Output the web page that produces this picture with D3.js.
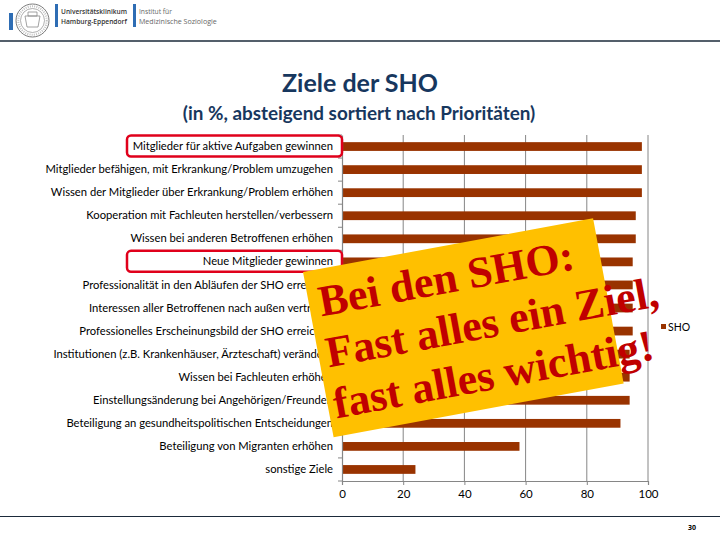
<!DOCTYPE html>
<html>
<head>
<meta charset="utf-8">
<script src="https://cdn.jsdelivr.net/npm/d3@7/dist/d3.min.js"></script>
<style>
  html, body { margin: 0; padding: 0; background: #fff; }
  svg { display: block; }
</style>
</head>
<body>
<svg id="chart" width="720" height="540"></svg>
<script>
// ---------- data ----------
const categories = [
  "Mitglieder für aktive Aufgaben gewinnen",
  "Mitglieder befähigen, mit Erkrankung/Problem umzugehen",
  "Wissen der Mitglieder über Erkrankung/Problem erhöhen",
  "Kooperation mit Fachleuten herstellen/verbessern",
  "Wissen bei anderen Betroffenen erhöhen",
  "Neue Mitglieder gewinnen",
  "Professionalität in den Abläufen der SHO erreichen",
  "Interessen aller Betroffenen nach außen vertreten",
  "Professionelles Erscheinungsbild der SHO erreichen",
  "Institutionen (z.B. Krankenhäuser, Ärzteschaft) verändern",
  "Wissen bei Fachleuten erhöhen",
  "Einstellungsänderung bei Angehörigen/Freunden",
  "Beteiligung an gesundheitspolitischen Entscheidungen",
  "Beteiligung von Migranten erhöhen",
  "sonstige Ziele"
];
const values = [98, 98, 98, 96, 96, 95, 95, 95, 95, 94, 94, 94, 91, 58, 24];
const seriesName = "SHO";
const xTicks = [0, 20, 40, 60, 80, 100];
const highlighted = ["Mitglieder für aktive Aufgaben gewinnen", "Neue Mitglieder gewinnen"];
const titleText = "Ziele der SHO";
const subtitleText = "(in %, absteigend sortiert nach Prioritäten)";
const noteLines = ["Bei den SHO:", "Fast alles ein Ziel,", "fast alles wichtig!"];

// ---------- helpers ----------
function fitFont(sel, baseSize, targetWidth) {
  sel.attr("font-size", baseSize);
  const w = sel.node().getComputedTextLength();
  sel.attr("font-size", baseSize * targetWidth / w);
  return sel;
}

// ---------- layout ----------
const svg = d3.select("#chart");
const plot = { left: 342, right: 648, top: 135, bottom: 481 };
const labelFont = "Lato, 'Open Sans', sans-serif";
const gray = "#868686";

const x = d3.scaleLinear().domain([0, 100]).range([plot.left, plot.right]);
const y = d3.scaleBand().domain(categories).range([plot.top, plot.bottom]).paddingInner(0.62).paddingOuter(0.31);

// ---------- header ----------
const hdr = svg.append("g");
hdr.append("rect").attr("x", 9).attr("y", 13).attr("width", 4).attr("height", 17).attr("fill", "#2e6db4");
hdr.append("circle").attr("cx", 32.5).attr("cy", 20.5).attr("r", 16.5).attr("fill", "none").attr("stroke", "#7a7a7a").attr("stroke-width", 1);
hdr.append("circle").attr("cx", 32.5).attr("cy", 20.5).attr("r", 12).attr("fill", "none").attr("stroke", "#9a9a9a").attr("stroke-width", 0.8);
hdr.append("circle").attr("cx", 32.5).attr("cy", 20.5).attr("r", 14.2).attr("fill", "none").attr("stroke", "#c0c0c0").attr("stroke-width", 2).attr("stroke-dasharray", "1 1.2");
hdr.append("path").attr("d", "M25,16 L40,16 L38,27 L27,27 Z M28,12 L37,12 L37,16 L28,16 Z").attr("fill", "none").attr("stroke", "#8a8a8a").attr("stroke-width", 0.8);
hdr.append("rect").attr("x", 55).attr("y", 4).attr("width", 3).attr("height", 23).attr("fill", "#2e6db4");
fitFont(hdr.append("text").attr("x", 61).attr("y", 14).attr("font-family", "'Open Sans', sans-serif").attr("font-weight", 600).attr("fill", "#333").text("Universitätsklinikum"), 8, 66);
fitFont(hdr.append("text").attr("x", 61).attr("y", 24).attr("font-family", "'Open Sans', sans-serif").attr("font-weight", 600).attr("fill", "#333").text("Hamburg-Eppendorf"), 8, 66);
hdr.append("rect").attr("x", 133).attr("y", 4).attr("width", 3).attr("height", 23).attr("fill", "#2e6db4");
fitFont(hdr.append("text").attr("x", 139).attr("y", 14).attr("font-family", "'Open Sans', sans-serif").attr("fill", "#666").text("Institut für"), 7.5, 33);
fitFont(hdr.append("text").attr("x", 139).attr("y", 24).attr("font-family", "'Open Sans', sans-serif").attr("fill", "#666").text("Medizinische Soziologie"), 7.5, 78);
svg.append("line").attr("x1", 0).attr("x2", 720).attr("y1", 41).attr("y2", 41).attr("stroke", "#1b2a3a").attr("stroke-width", 1.5);

// footer
svg.append("line").attr("x1", 0).attr("x2", 720).attr("y1", 516.5).attr("y2", 516.5).attr("stroke", "#1b2a3a").attr("stroke-width", 1.2);
svg.append("text").attr("x", 692).attr("y", 530).attr("text-anchor", "middle").attr("font-family", "'Open Sans', sans-serif").attr("font-size", 7).attr("font-weight", 700).attr("fill", "#000").text("30");

// ---------- titles ----------
fitFont(svg.append("text").attr("x", 360).attr("y", 92).attr("text-anchor", "middle")
  .attr("font-family", labelFont).attr("font-weight", 700).attr("fill", "#17375e").text(titleText), 22, 156);
fitFont(svg.append("text").attr("x", 359).attr("y", 120).attr("text-anchor", "middle")
  .attr("font-family", labelFont).attr("font-weight", 700).attr("fill", "#17375e").text(subtitleText), 16, 353);

// ---------- grid ----------
const grid = svg.append("g");
grid.selectAll("line").data(xTicks.filter(d => d > 0)).join("line")
  .attr("x1", d => x(d)).attr("x2", d => x(d))
  .attr("y1", plot.top).attr("y2", plot.bottom)
  .attr("stroke", gray).attr("stroke-width", 1);

// ---------- bars ----------
svg.append("g").selectAll("rect").data(categories).join("rect")
  .attr("x", x(0))
  .attr("y", d => y(d))
  .attr("width", (d, i) => x(values[i]) - x(0))
  .attr("height", y.bandwidth())
  .attr("fill", "#993300");

// ---------- axes ----------
const xAxis = d3.axisBottom(x).tickValues(xTicks).tickSize(4).tickPadding(5);
const gx = svg.append("g").attr("transform", `translate(0,${plot.bottom})`).call(xAxis);
gx.select(".domain").attr("stroke", gray).attr("stroke-width", 1.2);
gx.selectAll(".tick line").attr("stroke", gray);
gx.selectAll(".tick text").attr("font-family", labelFont).attr("font-size", 11.5).attr("fill", "#000");

const yAxis = d3.axisLeft(y).tickSize(0).tickPadding(9);
const gy = svg.append("g").attr("transform", `translate(${plot.left},0)`).call(yAxis);
gy.select(".domain").attr("stroke", gray).attr("stroke-width", 1.2);
const yLabels = gy.selectAll(".tick text").attr("font-family", labelFont).attr("font-size", 11).attr("fill", "#000");
// scale label font so the longest label spans like the reference
const longest = d3.max(yLabels.nodes(), n => n.getComputedTextLength());
yLabels.attr("font-size", 11 * 288 / longest);

// boundary tick marks between categories
const step = y.step();
const bounds = d3.range(categories.length + 1).map(i => plot.top + i * step);
svg.append("g").selectAll("line").data(bounds).join("line")
  .attr("x1", plot.left - 4).attr("x2", plot.left)
  .attr("y1", d => d).attr("y2", d => d)
  .attr("stroke", gray).attr("stroke-width", 1);

// highlighted label boxes
svg.append("g").selectAll("rect").data(highlighted).join("rect")
  .attr("x", 127).attr("y", d => y(d) + y.bandwidth() / 2 - 11)
  .attr("width", 215).attr("height", 21)
  .attr("rx", 4).attr("ry", 4)
  .attr("fill", "none").attr("stroke", "#e0001b").attr("stroke-width", 2.5);

// ---------- legend ----------
const lg = svg.append("g").attr("transform", "translate(661,324)");
lg.append("rect").attr("width", 5).attr("height", 5).attr("fill", "#993300");
lg.append("text").attr("x", 7).attr("y", 6.5).attr("font-family", labelFont).attr("font-size", 10.5).attr("fill", "#000").text(seriesName);

// ---------- overlay note ----------
const note = svg.append("g").attr("transform", "translate(303,272) rotate(-10.5)");
note.append("rect").attr("width", 295).attr("height", 168).attr("fill", "#ffc000");
note.selectAll("text").data(noteLines).join("text")
  .attr("x", (d, i) => [10, 8, 6][i])
  .attr("y", (d, i) => 47 + i * 51.5)
  .attr("font-family", "'Liberation Serif', 'Times New Roman', serif")
  .attr("font-weight", 700).attr("font-size", 44)
  .attr("fill", "#c00000")
  .text(d => d);
</script>
</body>
</html>
